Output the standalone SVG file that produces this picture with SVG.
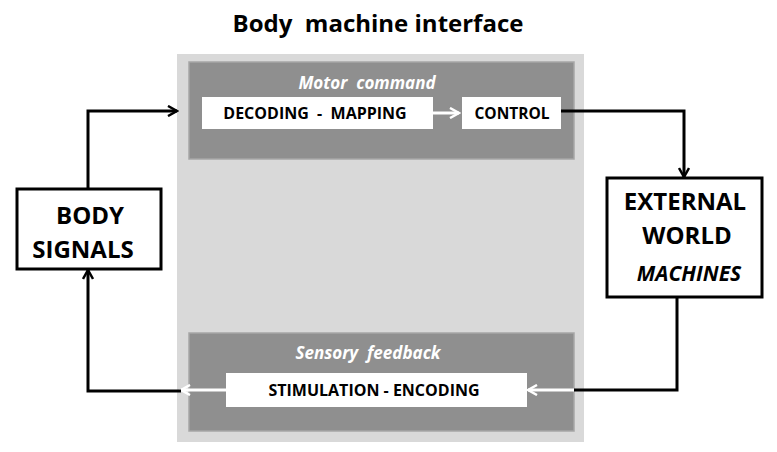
<svg xmlns="http://www.w3.org/2000/svg" width="777" height="452" viewBox="0 0 777 452">
<defs>
<style>
.t{font-family:"Open Sans","Liberation Sans",sans-serif;font-weight:bold;text-anchor:middle;white-space:pre}
.wline{stroke:#fff;stroke-width:3;fill:none}
.bline{stroke:#000;stroke-width:3;fill:none}
.box{fill:#fff;stroke:#000;stroke-width:3}
</style>
<marker id="ab" viewBox="0 0 12 12" refX="10" refY="6" markerWidth="12" markerHeight="12" markerUnits="userSpaceOnUse" orient="auto">
<path d="M1,1 L10,6 L1,11" fill="none" stroke="#000" stroke-width="2.5"/>
</marker>
<marker id="aw" viewBox="0 0 12 12" refX="10" refY="6" markerWidth="12" markerHeight="12" markerUnits="userSpaceOnUse" orient="auto">
<path d="M1,1 L10,6 L1,11" fill="none" stroke="#fff" stroke-width="2.5"/>
</marker>
</defs>
<rect width="777" height="452" fill="#fff"/>
<text class="t" x="378" y="32" font-size="24">Body  machine interface</text>
<g id="bmi">
<rect x="177" y="54" width="407" height="388" fill="#d9d9d9"/>
</g>
<g id="motor">
<rect x="189" y="62" width="385" height="97" fill="#8f8f8f" stroke="#a6a6a6" stroke-width="1.5"/>
<text class="t" x="367" y="89" font-size="17" font-style="italic" fill="#fff">Motor  command</text>
</g>
<g id="decoding">
<rect x="202" y="97" width="231" height="32" fill="#fff"/>
<text class="t" x="315" y="119" font-size="16">DECODING  -  MAPPING</text>
</g>
<g id="control">
<rect x="462" y="97" width="99" height="32" fill="#fff"/>
<text class="t" x="512" y="119" font-size="15.5">CONTROL</text>
</g>
<g id="sensory">
<rect x="189" y="333" width="385" height="98" fill="#8f8f8f" stroke="#a6a6a6" stroke-width="1.5"/>
<text class="t" x="368" y="359" font-size="17" font-style="italic" fill="#fff">Sensory  feedback</text>
</g>
<g id="stimulation">
<rect x="226" y="373" width="301" height="34" fill="#fff"/>
<text class="t" x="374" y="396" font-size="16">STIMULATION - ENCODING</text>
</g>
<g id="body">
<rect class="box" x="17" y="189" width="144" height="80"/>
<text class="t" x="90" y="224" font-size="24">BODY</text>
<text class="t" x="83" y="258" font-size="24">SIGNALS</text>
</g>
<g id="world">
<rect class="box" x="607" y="178" width="155" height="119"/>
<text class="t" x="685" y="210" font-size="24">EXTERNAL</text>
<text class="t" x="687" y="244" font-size="24">WORLD</text>
<text class="t" x="689" y="281" font-size="21" font-style="italic">MACHINES</text>
</g>
<g id="connectors">
<path class="wline" d="M433,113 H459" marker-end="url(#aw)"/>
<path class="bline" d="M88,189 V111 H177" marker-end="url(#ab)"/>
<path class="bline" d="M561,111 H684 V177" marker-end="url(#ab)"/>
<path class="bline" d="M677,297 V390 H574"/>
<path class="wline" d="M574,390 H528" marker-end="url(#aw)"/>
<path class="wline" d="M226,390 H181" marker-end="url(#aw)"/>
<path class="bline" d="M181,391 H88 V270" marker-end="url(#ab)"/>
</g>
</svg>
